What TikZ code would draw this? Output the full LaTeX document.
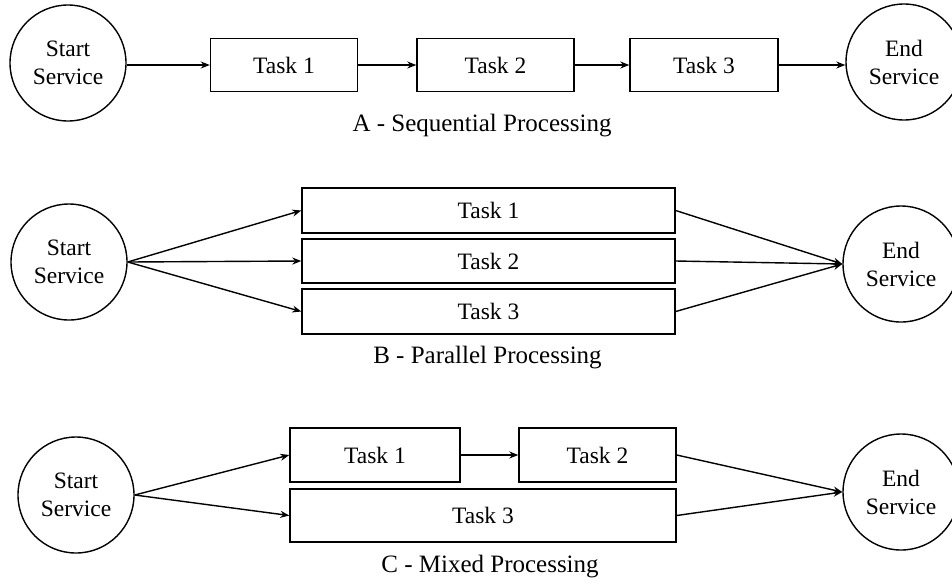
\documentclass[tikz,border=0pt]{standalone}
\usepackage{fontspec}
\setmainfont{Liberation Serif}
\usetikzlibrary{arrows.meta}
\begin{document}
\begin{tikzpicture}[x=1pt,y=-1pt,
  every node/.style={font=\fontsize{23.5}{28}\selectfont},
  svc/.style={draw,circle,line width=1.4pt,inner sep=0pt,minimum size=#1,align=center},
  taskbox/.style={draw,rectangle,line width=1.4pt,inner sep=0pt},
  conn/.style={line width=1.4pt,-{Stealth[length=9pt,width=7pt]}},
  captiontext/.style={anchor=base,font=\fontsize{25}{30}\selectfont}]
\useasboundingbox (0,0) rectangle (952,582);
% A
\node[svc=116pt] (sa) at (68,63) {Start\\Service};
\node[taskbox,minimum width=147pt,minimum height=53pt] (a1) at (284,65) {Task 1};
\node[taskbox,minimum width=157pt,minimum height=53pt] (a2) at (495.5,65) {Task 2};
\node[taskbox,minimum width=148pt,minimum height=53pt] (a3) at (704,65) {Task 3};
\node[svc=116pt] (ea) at (904,62) {End\\Service};
\draw[conn] (sa.east |- a1.west) -- (a1.west);
\draw[conn] (a1.east) -- (a2.west);
\draw[conn] (a2.east) -- (a3.west);
\draw[conn] (a3.east) -- (a3.east -| ea.west);
\node[captiontext] (la) at (482,131) {A - Sequential Processing};
% B
\node[svc=116pt] (sb) at (69,262) {Start\\Service};
\node[taskbox,minimum width=373pt,minimum height=45pt] (b1) at (488.5,210.5) {Task 1};
\node[taskbox,minimum width=373pt,minimum height=44pt] (b2) at (488.5,261) {Task 2};
\node[taskbox,minimum width=373pt,minimum height=45pt] (b3) at (488.5,311.5) {Task 3};
\node[svc=116pt] (eb) at (901,264) {End\\Service};
\draw[conn] (sb.east) -- (b1.west);
\draw[conn] (sb.east) -- (b2.west);
\draw[conn] (sb.east) -- (b3.west);
\draw[conn] (b1.east) -- (eb.west);
\draw[conn] (b2.east) -- (eb.west);
\draw[conn] (b3.east) -- (eb.west);
\node[captiontext] (lb) at (487.5,363) {B - Parallel Processing};
% C
\node[svc=116pt] (sc) at (76,495) {Start\\Service};
\node[taskbox,minimum width=170pt,minimum height=54pt] (c1) at (375,455) {Task 1};
\node[taskbox,minimum width=157pt,minimum height=54pt] (c2) at (597.5,455) {Task 2};
\node[taskbox,minimum width=386pt,minimum height=53pt] (c3) at (483,515.5) {Task 3};
\node[svc=116pt] (ec) at (901,492) {End\\Service};
\draw[conn] (sc.east) -- (c1.west);
\draw[conn] (sc.east) -- (c3.west);
\draw[conn] (c1.east) -- (c2.west);
\draw[conn] (c2.east) -- (ec.west);
\draw[conn] (c3.east) -- (ec.west);
\node[captiontext] (lc) at (490,572) {C - Mixed Processing};
\end{tikzpicture}
\end{document}
